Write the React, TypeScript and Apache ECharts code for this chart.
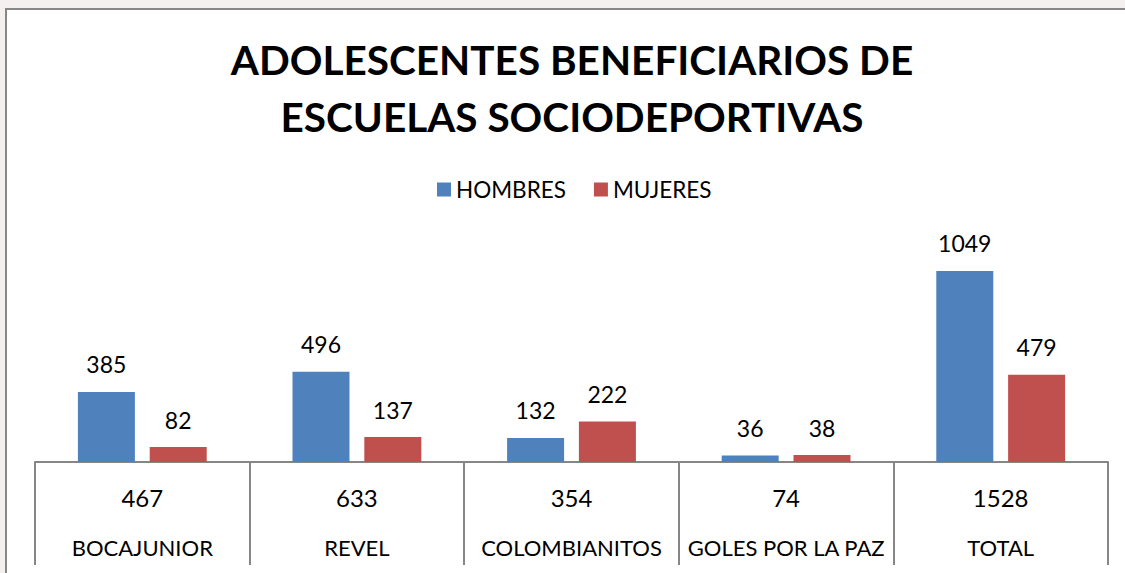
import React, { useEffect, useRef } from "react";
import * as echarts from "echarts";

const categories = ["BOCAJUNIOR", "REVEL", "COLOMBIANITOS", "GOLES POR LA PAZ", "TOTAL"];
const hombres = [385, 496, 132, 36, 1049];
const mujeres = [82, 137, 222, 38, 479];
const totales = [467, 633, 354, 74, 1528];
const titleLines = ["ADOLESCENTES BENEFICIARIOS DE", "ESCUELAS SOCIODEPORTIVAS"];

const FONT = "Lato, 'Open Sans', sans-serif";

export default function App() {
  const ref = useRef<HTMLDivElement>(null);
  useEffect(() => {
    if (!ref.current) return;
    const chart = echarts.init(ref.current, undefined, { renderer: "svg" });
    chart.setOption({
      animation: false,
      textStyle: { fontFamily: FONT },
      graphic: [
        {
          type: "text",
          x: 572,
          y: 59,
          style: {
            text: titleLines[0],
            font: `bold 40.5px ${FONT}`,
            fill: "#000",
            textAlign: "center",
            textVerticalAlign: "middle",
          },
        },
        {
          type: "text",
          x: 572,
          y: 116,
          style: {
            text: titleLines[1],
            font: `bold 40.5px ${FONT}`,
            fill: "#000",
            textAlign: "center",
            textVerticalAlign: "middle",
          },
        },
      ],
      legend: {
        left: 432,
        top: 173,
        icon: "rect",
        itemWidth: 14,
        itemHeight: 14,
        itemGap: 28,
        textStyle: { fontFamily: FONT, fontSize: 22.5, color: "#000" },
        data: ["HOMBRES", "MUJERES"],
      },
      grid: { left: 35, right: 17, top: 243.5, bottom: 111 },
      xAxis: {
        type: "category",
        data: categories,
        axisLine: { lineStyle: { color: "#868686", width: 2 } },
        axisTick: { show: true, interval: 0, length: 103, lineStyle: { color: "#868686", width: 2 } },
        axisLabel: {
          interval: 0,
          margin: 0,
          formatter: (v: string, i: number) => `{t|${totales[i]}}\n{n|${v}}`,
          rich: {
            t: { fontFamily: FONT, fontSize: 24, color: "#000", lineHeight: 70 },
            n: { fontFamily: FONT, fontSize: 22, color: "#000", lineHeight: 30 },
          },
        },
      },
      yAxis: { type: "value", min: 0, max: 1200, show: false, splitLine: { show: false } },
      series: [
        {
          name: "HOMBRES",
          type: "bar",
          data: hombres,
          barWidth: 57,
          barGap: "26%",
          itemStyle: { color: "#4f81bd" },
          label: { show: true, position: "top", distance: 16, fontFamily: FONT, fontSize: 23, color: "#000" },
        },
        {
          name: "MUJERES",
          type: "bar",
          data: mujeres,
          barWidth: 57,
          itemStyle: { color: "#c0504d" },
          label: { show: true, position: "top", distance: 16, fontFamily: FONT, fontSize: 23, color: "#000" },
        },
      ],
    });
    return () => chart.dispose();
  }, []);

  return (
    <div style={{ position: "fixed", left: 0, top: 0, width: 1125, height: 573, background: "#f5f0f0", overflow: "hidden" }}>
      <div
        style={{
          position: "absolute",
          left: 5,
          top: 8,
          width: 1140,
          height: 600,
          border: "2px solid #878787",
          background: "#fff",
        }}
      />
      <div ref={ref} style={{ position: "absolute", left: 0, top: 0, width: 1125, height: 573 }} />
    </div>
  );
}
